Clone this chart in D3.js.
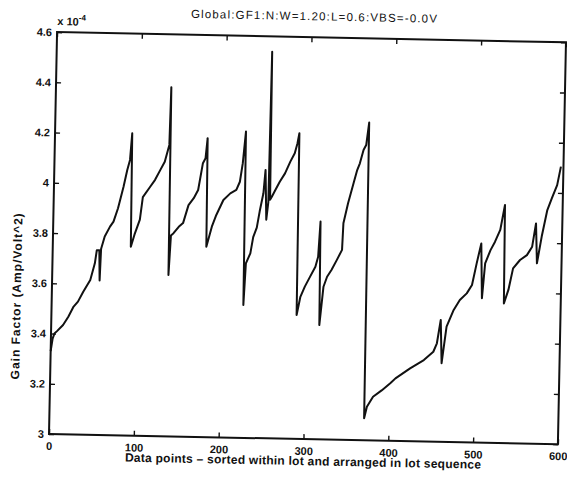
<!DOCTYPE html>
<html>
<head>
<meta charset="utf-8">
<script src="https://cdn.jsdelivr.net/npm/d3@7"></script>
<style>
  body { margin: 0; background: #fff; }
  text { font-family: "Liberation Sans", Arial, Helvetica, sans-serif; fill: #111; }
</style>
</head>
<body>
<svg id="chart" width="567" height="483"></svg>
<script>
// Point index (position in the lot-sorted sequence)
const pointIndex = [
  0, 2, 4, 7, 14, 20, 26, 31, 37, 45, 50, 52, 55, 56, 57, 61, 67, 71, 76, 82, 86, 89, 91,
  92, 96, 100, 102, 105, 113, 119, 125, 130, 135, 136,
  137, 139, 142, 148, 153, 159, 165, 170, 175, 178, 180,
  181, 187, 192, 200, 208, 215, 219, 222, 225,
  226, 228, 233, 236, 240, 243, 247, 249,
  251, 253, 254, 255, 257, 261, 266, 272, 278, 283, 286, 288,
  289, 293, 298, 304, 310, 313, 315,
  316, 320, 324, 329, 335, 341, 342, 347, 353, 357, 360, 364, 367, 370,
  371, 374, 381, 391, 401, 407, 424, 440, 451, 455, 459,
  461, 466, 474, 481, 489, 495, 500, 505,
  507, 510, 516, 521, 527, 532,
  533, 538, 543, 551, 559, 565, 569,
  571, 576, 582, 587, 593, 597
];

// Gain factor, in units of 1e-4 Amp/Volt^2
const gainFactor = [
  3.33, 3.38, 3.40, 3.41, 3.435, 3.468, 3.509, 3.529, 3.569, 3.616, 3.683, 3.735, 3.735, 3.615, 3.74, 3.79, 3.83, 3.85, 3.904, 3.99, 4.057, 4.097, 4.203,
  3.752, 3.80, 3.84, 3.86, 3.95, 3.99, 4.02, 4.06, 4.093, 4.16, 4.39,
  3.642, 3.80, 3.809, 3.835, 3.85, 3.922, 3.95, 3.983, 4.09, 4.11, 4.19,
  3.758, 3.838, 3.885, 3.945, 3.972, 3.986, 4.019, 4.093, 4.219,
  3.529, 3.695, 3.735, 3.80, 3.838, 3.902, 3.975, 4.068,
  3.87, 3.94, 4.539, 3.95, 3.962, 3.989, 4.022, 4.056, 4.103, 4.137, 4.177, 4.217,
  3.493, 3.566, 3.607, 3.647, 3.687, 3.727, 3.867,
  3.455, 3.608, 3.648, 3.675, 3.715, 3.756, 3.862, 3.942, 4.022, 4.075, 4.102, 4.155, 4.175, 4.265,
  3.088, 3.134, 3.174, 3.20, 3.229, 3.249, 3.29, 3.324, 3.358, 3.392, 3.485,
  3.313, 3.459, 3.526, 3.566, 3.593, 3.627, 3.713, 3.793,
  3.575, 3.714, 3.767, 3.80, 3.848, 3.948,
  3.556, 3.61, 3.696, 3.73, 3.75, 3.784, 3.877,
  3.718, 3.825, 3.931, 3.978, 4.031, 4.105
];

const xTicks = [0, 100, 200, 300, 400, 500, 600];
const yTicks = [3, 3.2, 3.4, 3.6, 3.8, 4, 4.2, 4.4, 4.6];
const titleText = "Global:GF1:N:W=1.20:L=0.6:VBS=-0.0V";
const xLabelText = "Data points \u2013 sorted within lot and arranged in lot sequence";
const yLabelText = "Gain Factor (Amp/Volt^2)";

const plotW = 509, plotH = 402;
const plotLeft = 49, plotTop = 32;

const svg = d3.select("#chart");
// the sheet sits slightly askew
const sheet = svg.append("g")
  .attr("transform", `rotate(1.15, ${plotLeft}, ${plotTop + plotH})`);
const g = sheet.append("g").attr("transform", `translate(${plotLeft},${plotTop})`);

const x = d3.scaleLinear().domain([0, 600]).range([0, plotW]);
const y = d3.scaleLinear().domain([3, 4.6]).range([plotH, 0]);

const fmt = d => String(+d.toFixed(1));
const tickLen = 5;

function styleAxis(sel) {
  sel.select(".domain").remove();
  sel.selectAll(".tick line").attr("stroke", "#111").attr("stroke-width", 1.4);
  sel.selectAll(".tick text").attr("font-size", 11).attr("font-weight", "bold").attr("fill", "#111");
}

g.append("g").attr("transform", `translate(0,${plotH})`)
  .call(d3.axisBottom(x).tickValues(xTicks).tickFormat(fmt).tickSizeInner(-tickLen).tickSizeOuter(0).tickPadding(8))
  .call(styleAxis);
g.append("g")
  .call(d3.axisTop(x).tickValues(xTicks).tickFormat("").tickSizeInner(-tickLen).tickSizeOuter(0))
  .call(styleAxis);
g.append("g")
  .call(d3.axisLeft(y).tickValues(yTicks).tickFormat(fmt).tickSizeInner(-tickLen).tickSizeOuter(0).tickPadding(5))
  .call(styleAxis);
g.append("g").attr("transform", `translate(${plotW},0)`)
  .call(d3.axisRight(y).tickValues(yTicks).tickFormat("").tickSizeInner(-tickLen).tickSizeOuter(0))
  .call(styleAxis);

// axes box
g.append("rect")
  .attr("x", 0).attr("y", 0).attr("width", plotW).attr("height", plotH)
  .attr("fill", "none").attr("stroke", "#111").attr("stroke-width", 2);

// data trace
const data = pointIndex.map((p, i) => [p, gainFactor[i]]);
g.append("path")
  .datum(data)
  .attr("fill", "none")
  .attr("stroke", "#111")
  .attr("stroke-width", 2)
  .attr("stroke-linejoin", "round")
  .attr("d", d3.line().x(d => x(d[0])).y(d => y(d[1])));

// exponent multiplier
const ex = g.append("text").attr("x", 0).attr("y", -7)
  .attr("font-size", 11).attr("font-weight", "bold");
ex.append("tspan").text("x 10");
ex.append("tspan").attr("dy", -5).attr("font-size", 8).text("-4");

// title
g.append("text").attr("x", plotW / 2 + 2).attr("y", -17)
  .attr("text-anchor", "middle").attr("font-size", 11.5)
  .attr("textLength", 246).attr("lengthAdjust", "spacing")
  .text(titleText);

// axis labels
g.append("text").attr("x", plotW / 2).attr("y", plotH + 26)
  .attr("text-anchor", "middle").attr("font-size", 12).attr("font-weight", "bold")
  .attr("textLength", 356).attr("lengthAdjust", "spacing")
  .text(xLabelText);
g.append("text")
  .attr("transform", `translate(-31,${plotH / 2 + 64}) rotate(-90)`)
  .attr("text-anchor", "middle").attr("font-size", 12).attr("font-weight", "bold")
  .attr("textLength", 166).attr("lengthAdjust", "spacing")
  .text(yLabelText);
</script>
</body>
</html>
